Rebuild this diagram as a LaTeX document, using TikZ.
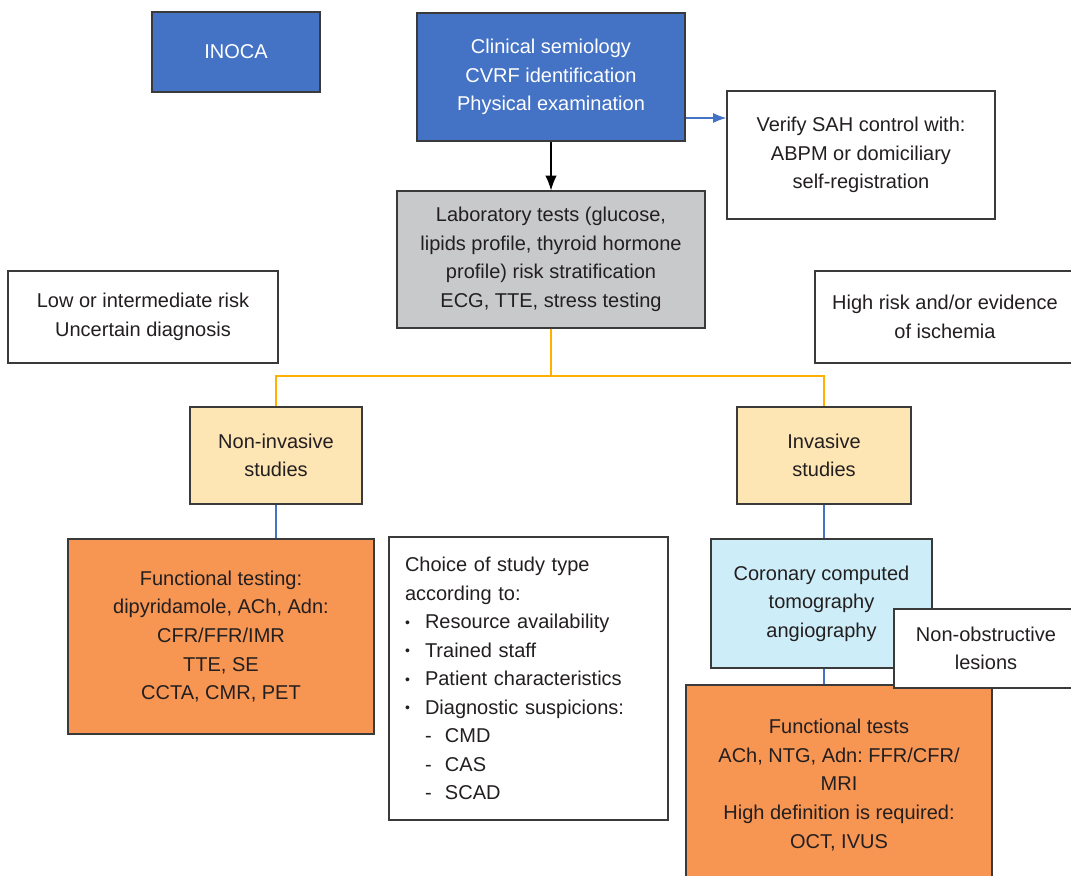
\documentclass[tikz,border=0pt]{standalone}
\usepackage{fontspec}
\setmainfont{Liberation Sans}
\usetikzlibrary{arrows.meta}
\frenchspacing
\definecolor{clinblue}{HTML}{4472C4}
\definecolor{labgray}{HTML}{C8C9CB}
\definecolor{studyyellow}{HTML}{FDE5B4}
\definecolor{testorange}{HTML}{F79552}
\definecolor{cctacyan}{HTML}{CDEEF8}
\definecolor{branchorange}{HTML}{FFB000}
\definecolor{boxline}{HTML}{3A3A3A}
\definecolor{inktext}{HTML}{231F20}
\newcommand{\choicedot}{\makebox[15pt][l]{\raisebox{1pt}{\fontsize{10.5}{10.5}\selectfont\textbullet}}}
\newcommand{\choicedash}{\hspace{15pt}\makebox[15pt][l]{-}}
\tikzset{
	box/.style={draw=boxline,line width=0.9pt,align=center,inner sep=0pt,text=inktext,
		font=\fontsize{15}{21.4}\selectfont},
	px/.style 2 args={minimum width=#1*0.75pt,minimum height=#2*0.75pt},
	bluebox/.style={box,fill=clinblue,text=white},
	graybox/.style={box,fill=labgray},
	studybox/.style={box,fill=studyyellow},
	orangebox/.style={box,fill=testorange},
	cyanbox/.style={box,fill=cctacyan},
	branch/.style={branchorange,line width=1.6pt},
	feed/.style={clinblue,line width=0.9pt}
}
\begin{document}
\begin{tikzpicture}[x=0.75pt,y=-0.75pt]
\useasboundingbox[fill=white](0,0)rectangle(1071,875);
\node[bluebox,px={168}{80}](inoca)at(236,52){INOCA};
\node[bluebox,px={268}{128}](clin)at(551,77){Clinical semiology\\CVRF identification\\Physical examination};
\node[box,px={268}{128}](verify)at(861,155){Verify SAH control with:\\ABPM or domiciliary\\self-registration};
\node[graybox,px={308}{137}](lab)at(551,259.5){Laboratory tests (glucose,\\lipids profile, thyroid hormone\\profile) risk stratification\\ECG, TTE, stress testing};
\node[box,px={270}{92}](low)at(143,317){Low or intermediate risk\\Uncertain diagnosis};
\node[box,px={260}{92}](high)at(945,317){High risk and/or evidence\\of ischemia};
\node[studybox,px={172}{97}](noninv)at(276,455.5){Non-invasive\\studies};
\node[studybox,px={174}{97}](inv)at(824,455.5){Invasive\\studies};
\node[orangebox,px={306}{195}](functesting)at(221,636.5){Functional testing:\\dipyridamole, ACh, Adn:\\CFR/FFR/IMR\\TTE, SE\\CCTA, CMR, PET};
\node[box,align=left,text width=247*0.75pt,inner xsep=16*0.75pt,px={279}{283}](choice)at(528.5,678.5)
	{Choice of study type\\according to:\\
	\choicedot Resource availability\\
	\choicedot Trained staff\\
	\choicedot Patient characteristics\\
	\choicedot Diagnostic suspicions:\\
	\choicedash CMD\\
	\choicedash CAS\\
	\choicedash SCAD};
\node[cyanbox,px={221}{129}](ccta)at(821.5,603.5){Coronary computed\\tomography\\angiography};
\node[orangebox,px={306}{200}](functests)at(839,785){Functional tests\\ACh, NTG, Adn: FFR/CFR/\\MRI\\High definition is required:\\OCT, IVUS};
\node[box,fill=white,px={184}{79}](nonobs)at(986,648.5){Non-obstructive\\lesions};
% connectors
\draw[line width=0.9pt,-{Latex[length=11pt,width=8.5pt]}](clin)--(lab);
\coordinate(sahin)at([yshift=27.75pt]verify.west);
\draw[feed,-{Latex[length=10pt,width=7.5pt]}](clin.east|-sahin)--(sahin);
\draw[branch](lab.south)--++(0,47)-|(noninv.north);
\draw[branch](lab.south)--++(0,47)-|(inv.north);
\draw[feed](noninv.south)--(noninv.south|-functesting.north);
\draw[feed](inv.south)--(inv.south|-ccta.north);
\draw[feed](inv.south|-ccta.south)--(inv.south|-functests.north);
\end{tikzpicture}
\end{document}
